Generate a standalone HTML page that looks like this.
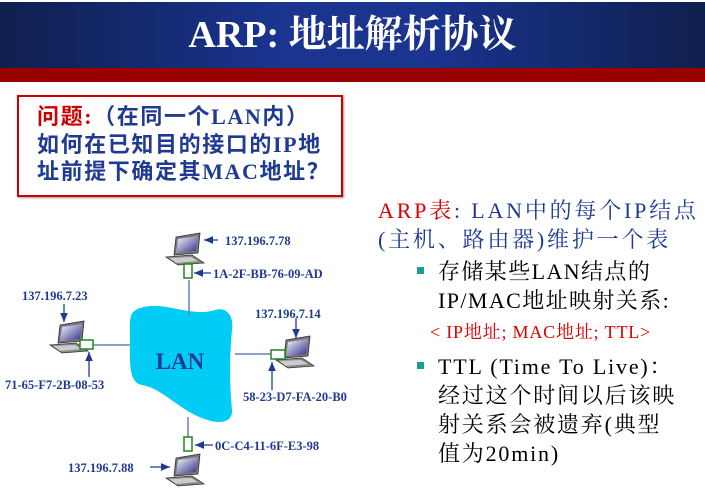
<!DOCTYPE html>
<html><head><meta charset="utf-8"><style>
body{margin:0;width:705px;height:492px;overflow:hidden;background:#fff;position:relative;font-family:"Liberation Serif","Noto Serif CJK SC",serif}
.hd{position:absolute;left:0;top:2px;width:705px;height:66px;background:linear-gradient(90deg,#0f1f4d 0%,#1a3490 40%,#1a3490 60%,#0f1f4d 100%)}
.rb{position:absolute;left:0;top:68px;width:705px;height:14px;background:#990000}
.t{position:absolute;left:0;top:10px;width:705px;text-align:center;color:#fff;font-size:38px;font-weight:bold;line-height:50px}
.box{position:absolute;left:17px;top:95px;width:322px;height:98px;border:2px solid #cc0000;box-shadow:1px 1px 2px #999}
.q{position:absolute;left:37px;top:103px;font-family:"Liberation Serif","Noto Sans CJK SC",sans-serif;font-weight:bold;font-size:22px;line-height:27.5px;color:#1f3a93;white-space:nowrap;letter-spacing:1.6px}
.r{position:absolute;font-family:"Liberation Serif","Noto Serif CJK SC",serif;font-size:22px;white-space:nowrap;line-height:29px}
.sq{position:absolute;width:7px;height:7px;background:#1a9a9a}
</style></head><body>
<div class="hd"></div><div class="rb"></div>
<div class="t">ARP: 地址解析协议</div>
<div class="box"></div>
<div class="q"><span style="color:#cc0000">问题:</span>（在同一个LAN内）<br>如何在已知目的接口的IP地<br>址前提下确定其MAC地址？</div>
<div class="r" style="left:378px;top:196px;color:#1f3a93;letter-spacing:2.8px"><span style="color:#dd0000">ARP表</span>: LAN中的每个IP结点<br>(主机、路由器)维护一个表</div>
<div class="sq" style="left:417px;top:267px"></div>
<div class="r" style="left:438px;top:257px;color:#000;letter-spacing:1.4px">存储某些LAN结点的<br>IP/MAC地址映射关系:</div>
<div class="r" style="left:430px;top:320px;color:#dd0000;font-size:18px;line-height:24px;letter-spacing:0.8px">&lt; IP地址; MAC地址; TTL&gt;</div>
<div class="sq" style="left:417px;top:362px"></div>
<div class="r" style="left:438px;top:352px;color:#000;letter-spacing:1.8px">TTL (Time To Live)：<br>经过这个时间以后该映<br>射关系会被遗弃(典型<br>值为20min)</div>
<svg style="position:absolute;left:0;top:0" width="705" height="492">
<defs>
<linearGradient id="sc" x1="0" y1="0" x2="1" y2="1"><stop offset="0" stop-color="#fff"/><stop offset="1" stop-color="#2a2a8a"/></linearGradient>
<g id="pc">
<polygon points="4,0 28,-4 26,16 2,18" fill="#777" stroke="#333" stroke-width="0.8"/>
<polygon points="6,2 26,-1 24,14 4,16" fill="url(#sc)"/>
<polygon points="-6,20 20,18 32,26 6,28" fill="#888" stroke="#333" stroke-width="0.8"/>
<polygon points="-3,21 19,20 26,24 4,26" fill="#ccc"/>
</g>
<marker id="ar" markerWidth="8" markerHeight="8" refX="7" refY="4" orient="auto"><path d="M0,1 L7,4 L0,7 z" fill="#1f3a93"/></marker>
</defs>
<path d="M140,308 C165,300 190,318 215,310 C228,306 234,318 232,330 C229,360 230,390 232,410 C233,425 215,425 195,415 C175,405 160,388 142,385 C128,383 130,360 130,340 C130,320 128,312 140,308 Z" fill="#00ccf5"/>
<text x="180" y="369" text-anchor="middle" font-size="23" font-weight="bold" fill="#1f3a93">LAN</text>
<g stroke="#6a7fb8" stroke-width="1.5">
<line x1="189" y1="280" x2="189" y2="316"/>
<line x1="93" y1="345" x2="130" y2="345"/>
<line x1="235" y1="354" x2="271" y2="354"/>
<line x1="188" y1="417" x2="188" y2="437"/>
</g>
<use href="#pc" x="172" y="237"/>
<use href="#pc" x="56" y="325"/>
<use href="#pc" x="282" y="340"/>
<use href="#pc" x="172" y="458"/>
<g fill="#fff" stroke="#1a8a1a" stroke-width="1.5">
<rect x="184" y="264" width="8" height="14"/>
<rect x="80" y="340" width="13" height="9"/>
<rect x="271" y="350" width="14" height="9"/>
<rect x="184" y="437" width="8" height="14"/>
</g>
<g stroke="#1f3a93" stroke-width="1.3" marker-end="url(#ar)">
<line x1="218" y1="240" x2="204" y2="240"/>
<line x1="211" y1="273" x2="194" y2="273"/>
<line x1="64" y1="304" x2="64" y2="322"/>
<line x1="89" y1="377" x2="89" y2="352"/>
<line x1="296" y1="318" x2="296" y2="338"/>
<line x1="272" y1="390" x2="272" y2="362"/>
<line x1="213" y1="445" x2="195" y2="445"/>
<line x1="150" y1="467" x2="170" y2="467"/>
</g>
<g font-size="12.5" font-weight="bold" fill="#1f3a93">
<text x="225" y="245">137.196.7.78</text>
<text x="213" y="278">1A-2F-BB-76-09-AD</text>
<text x="22" y="300">137.196.7.23</text>
<text x="5" y="389">71-65-F7-2B-08-53</text>
<text x="255" y="318">137.196.7.14</text>
<text x="243" y="401">58-23-D7-FA-20-B0</text>
<text x="215" y="450">0C-C4-11-6F-E3-98</text>
<text x="68" y="472">137.196.7.88</text>
</g>
</svg>
</body></html>
